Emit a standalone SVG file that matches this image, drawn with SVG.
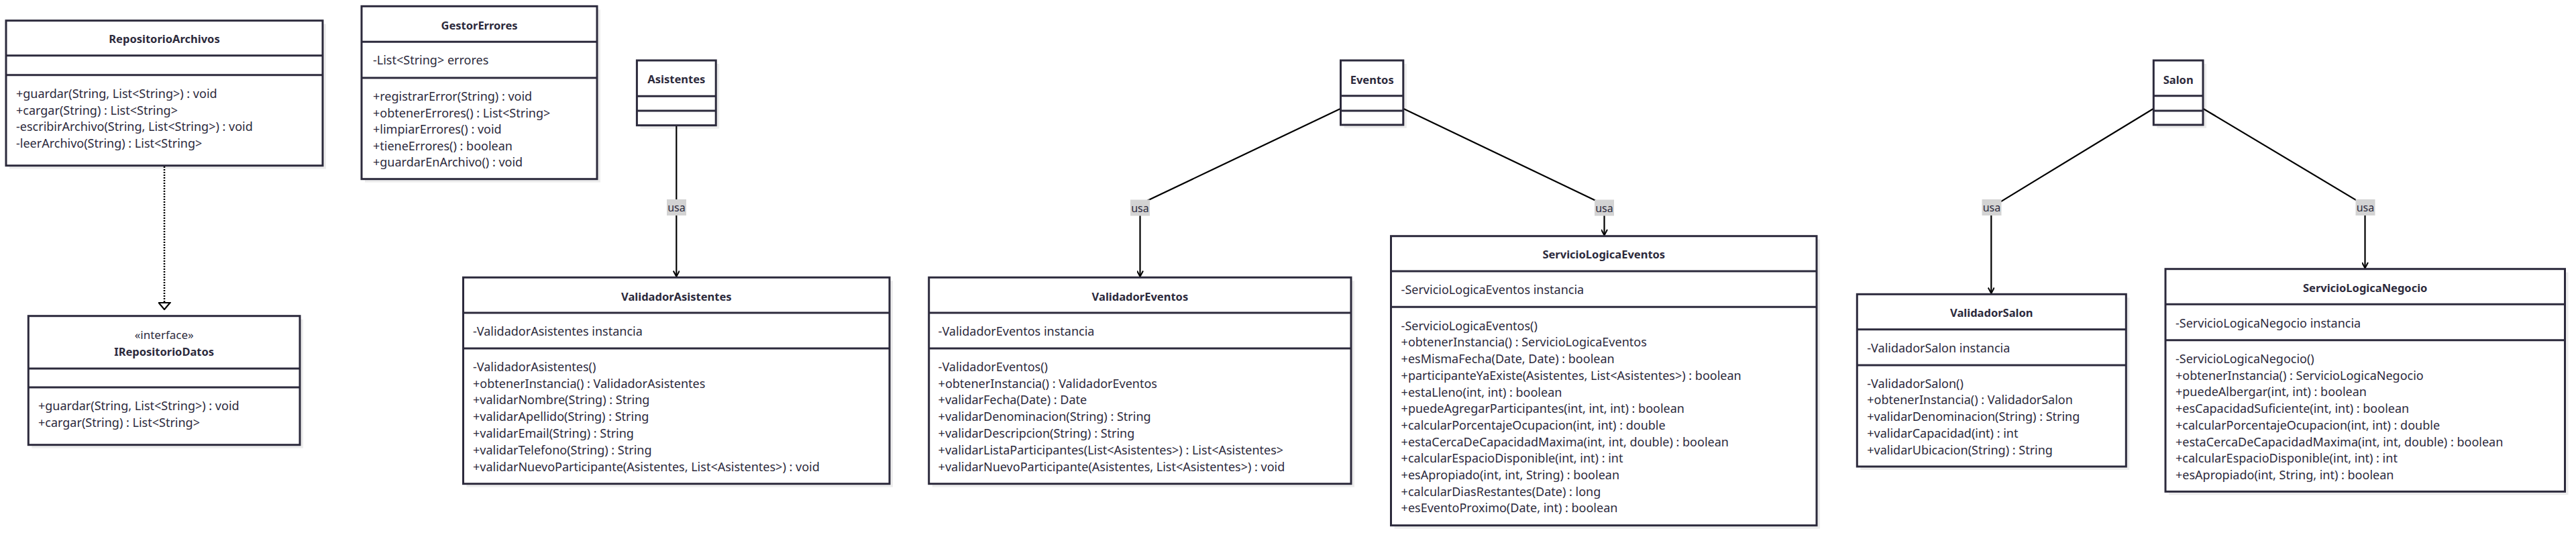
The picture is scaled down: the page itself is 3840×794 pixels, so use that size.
<svg xmlns="http://www.w3.org/2000/svg" width="3840" height="794" viewBox="0 0 3840 794">
<style>
.box{fill:#fff;stroke:#2c2a3c;stroke-width:3}
.sh{fill:#000;opacity:0.07}
.div{stroke:#2c2a3c;stroke-width:3}
.t{font-family:"Noto Sans","Open Sans",sans-serif;font-size:16.5px;font-weight:bold;fill:#2c2a3c;text-anchor:middle}
.s{font-family:"Noto Sans","Open Sans",sans-serif;font-size:17px;fill:#2c2a3c;text-anchor:middle}
.m{font-family:"Noto Sans","Open Sans",sans-serif;font-size:18px;fill:#2c2a3c}
.edge{fill:none;stroke:#000;stroke-width:2.2}
.dot{fill:none;stroke:#000;stroke-width:2.5;stroke-dasharray:2,2}
.lbg{fill:#d3d3d3}
.lt{font-family:"Noto Sans","Open Sans",sans-serif;font-size:16px;fill:#2c2a3c;text-anchor:middle}
</style>
<defs>
<marker id="arr" viewBox="0 0 10 10" refX="9.5" refY="5" markerWidth="10" markerHeight="10" markerUnits="userSpaceOnUse" orient="auto">
<path d="M1,0.5 L9.5,5 L1,9.5" fill="none" stroke="#000" stroke-width="2"/>
</marker>
<marker id="tri" viewBox="0 0 12 19" refX="11" refY="9.5" markerWidth="12" markerHeight="19" markerUnits="userSpaceOnUse" orient="auto">
<path d="M1,1 L11,9.5 L1,18 Z" fill="#fff" stroke="#000" stroke-width="2.2"/>
</marker>
</defs>
<rect width="3840" height="794" fill="#fff"/>

<g id="connectors">
<path class="dot" d="M245,248 V461" marker-end="url(#tri)"/>
<path class="edge" d="M1008.3,187 V412" marker-end="url(#arr)"/>
<path class="edge" d="M1998.5,161.7 L1699.5,304 V412" marker-end="url(#arr)"/>
<path class="edge" d="M2091.8,161.7 L2391.5,305 V350.5" marker-end="url(#arr)"/>
<path class="edge" d="M3210.3,161.7 L2968.3,309 V437" marker-end="url(#arr)"/>
<path class="edge" d="M3284,161.7 L3525.5,306 V399.5" marker-end="url(#arr)"/>
<g id="labels">
<rect class="lbg" x="994" y="297" width="29" height="24"/><text class="lt" x="1008.5" y="315">usa</text>
<rect class="lbg" x="1685" y="297.5" width="29" height="24"/><text class="lt" x="1699.5" y="315.5">usa</text>
<rect class="lbg" x="2377" y="297.5" width="29" height="24"/><text class="lt" x="2391.5" y="315.5">usa</text>
<rect class="lbg" x="2954.5" y="297" width="29" height="24"/><text class="lt" x="2969" y="315">usa</text>
<rect class="lbg" x="3511.5" y="297" width="29" height="24"/><text class="lt" x="3526" y="315">usa</text>
</g>
</g>

<g id="RepositorioArchivos">
<rect class="sh" x="14" y="35.7" width="472" height="216"/>
<rect class="box" x="9" y="30.7" width="472" height="216"/>
<line class="div" x1="9" y1="82.7" x2="481" y2="82.7"/>
<line class="div" x1="9" y1="111.7" x2="481" y2="111.7"/>
<text class="t" x="245" y="64">RepositorioArchivos</text>
<text class="m" x="24" y="146">+guardar(String, List&lt;String&gt;) : void</text>
<text class="m" x="24" y="170.7">+cargar(String) : List&lt;String&gt;</text>
<text class="m" x="24" y="195.4">-escribirArchivo(String, List&lt;String&gt;) : void</text>
<text class="m" x="24" y="220">-leerArchivo(String) : List&lt;String&gt;</text>
</g>

<g id="IRepositorioDatos">
<rect class="sh" x="47.3" y="475.7" width="404.7" height="192"/>
<rect class="box" x="42.3" y="470.7" width="404.7" height="192"/>
<line class="div" x1="42.3" y1="549" x2="447" y2="549"/>
<line class="div" x1="42.3" y1="577" x2="447" y2="577"/>
<text class="s" x="244.7" y="505">«interface»</text>
<text class="t" x="244.7" y="530">IRepositorioDatos</text>
<text class="m" x="57" y="611">+guardar(String, List&lt;String&gt;) : void</text>
<text class="m" x="57" y="636">+cargar(String) : List&lt;String&gt;</text>
</g>

<g id="GestorErrores">
<rect class="sh" x="544" y="14.3" width="351" height="257.4"/>
<rect class="box" x="539" y="9.3" width="351" height="257.4"/>
<line class="div" x1="539" y1="62.3" x2="890" y2="62.3"/>
<line class="div" x1="539" y1="116" x2="890" y2="116"/>
<text class="t" x="714.5" y="43.7">GestorErrores</text>
<text class="m" x="556" y="96">-List&lt;String&gt; errores</text>
<text class="m" x="556" y="150">+registrarError(String) : void</text>
<text class="m" x="556" y="174.5">+obtenerErrores() : List&lt;String&gt;</text>
<text class="m" x="556" y="199">+limpiarErrores() : void</text>
<text class="m" x="556" y="223.5">+tieneErrores() : boolean</text>
<text class="m" x="556" y="248">+guardarEnArchivo() : void</text>
</g>

<g id="Asistentes">
<rect class="sh" x="954.4" y="95" width="117.8" height="96.7"/>
<rect class="box" x="949.4" y="90" width="117.8" height="96.7"/>
<line class="div" x1="949.4" y1="143.3" x2="1067.2" y2="143.3"/>
<line class="div" x1="949.4" y1="165" x2="1067.2" y2="165"/>
<text class="t" x="1008.3" y="124.3">Asistentes</text>
</g>

<g id="ValidadorAsistentes">
<rect class="sh" x="695.5" y="418.3" width="635.5" height="307.4"/>
<rect class="box" x="690.5" y="413.3" width="635.5" height="307.4"/>
<line class="div" x1="690.5" y1="466" x2="1326" y2="466"/>
<line class="div" x1="690.5" y1="519" x2="1326" y2="519"/>
<text class="t" x="1008.3" y="447.7">ValidadorAsistentes</text>
<text class="m" x="705" y="500.3">-ValidadorAsistentes instancia</text>
<text class="m" x="705" y="552.7">-ValidadorAsistentes()</text>
<text class="m" x="705" y="577.5">+obtenerInstancia() : ValidadorAsistentes</text>
<text class="m" x="705" y="602.3">+validarNombre(String) : String</text>
<text class="m" x="705" y="627.1">+validarApellido(String) : String</text>
<text class="m" x="705" y="651.9">+validarEmail(String) : String</text>
<text class="m" x="705" y="676.7">+validarTelefono(String) : String</text>
<text class="m" x="705" y="701.5">+validarNuevoParticipante(Asistentes, List&lt;Asistentes&gt;) : void</text>
</g>

<g id="Eventos">
<rect class="sh" x="2003.5" y="95" width="93.3" height="96"/>
<rect class="box" x="1998.5" y="90" width="93.3" height="96"/>
<line class="div" x1="1998.5" y1="142.7" x2="2091.8" y2="142.7"/>
<line class="div" x1="1998.5" y1="165" x2="2091.8" y2="165"/>
<text class="t" x="2045.2" y="125">Eventos</text>
</g>

<g id="ValidadorEventos">
<rect class="sh" x="1389.7" y="418.3" width="629.3" height="307.4"/>
<rect class="box" x="1384.7" y="413.3" width="629.3" height="307.4"/>
<line class="div" x1="1384.7" y1="466" x2="2014" y2="466"/>
<line class="div" x1="1384.7" y1="519" x2="2014" y2="519"/>
<text class="t" x="1699.4" y="447.7">ValidadorEventos</text>
<text class="m" x="1398.6" y="500.3">-ValidadorEventos instancia</text>
<text class="m" x="1398.6" y="552.7">-ValidadorEventos()</text>
<text class="m" x="1398.6" y="577.5">+obtenerInstancia() : ValidadorEventos</text>
<text class="m" x="1398.6" y="602.3">+validarFecha(Date) : Date</text>
<text class="m" x="1398.6" y="627.1">+validarDenominacion(String) : String</text>
<text class="m" x="1398.6" y="651.9">+validarDescripcion(String) : String</text>
<text class="m" x="1398.6" y="676.7">+validarListaParticipantes(List&lt;Asistentes&gt;) : List&lt;Asistentes&gt;</text>
<text class="m" x="1398.6" y="701.5">+validarNuevoParticipante(Asistentes, List&lt;Asistentes&gt;) : void</text>
</g>

<g id="ServicioLogicaEventos">
<rect class="sh" x="2078.5" y="356.7" width="634.5" height="431"/>
<rect class="box" x="2073.5" y="351.7" width="634.5" height="431"/>
<line class="div" x1="2073.5" y1="404" x2="2708" y2="404"/>
<line class="div" x1="2073.5" y1="457.3" x2="2708" y2="457.3"/>
<text class="t" x="2390.8" y="385.3">ServicioLogicaEventos</text>
<text class="m" x="2088.6" y="438.3">-ServicioLogicaEventos instancia</text>
<text class="m" x="2088.6" y="491.7">-ServicioLogicaEventos()</text>
<text class="m" x="2088.6" y="516.4">+obtenerInstancia() : ServicioLogicaEventos</text>
<text class="m" x="2088.6" y="541.1">+esMismaFecha(Date, Date) : boolean</text>
<text class="m" x="2088.6" y="565.8">+participanteYaExiste(Asistentes, List&lt;Asistentes&gt;) : boolean</text>
<text class="m" x="2088.6" y="590.5">+estaLleno(int, int) : boolean</text>
<text class="m" x="2088.6" y="615.2">+puedeAgregarParticipantes(int, int, int) : boolean</text>
<text class="m" x="2088.6" y="639.9">+calcularPorcentajeOcupacion(int, int) : double</text>
<text class="m" x="2088.6" y="664.6">+estaCercaDeCapacidadMaxima(int, int, double) : boolean</text>
<text class="m" x="2088.6" y="689.3">+calcularEspacioDisponible(int, int) : int</text>
<text class="m" x="2088.6" y="714">+esApropiado(int, int, String) : boolean</text>
<text class="m" x="2088.6" y="738.7">+calcularDiasRestantes(Date) : long</text>
<text class="m" x="2088.6" y="763.4">+esEventoProximo(Date, int) : boolean</text>
</g>

<g id="Salon">
<rect class="sh" x="3215.3" y="95" width="73.7" height="96"/>
<rect class="box" x="3210.3" y="90" width="73.7" height="96"/>
<line class="div" x1="3210.3" y1="142.7" x2="3284" y2="142.7"/>
<line class="div" x1="3210.3" y1="165" x2="3284" y2="165"/>
<text class="t" x="3247.2" y="125">Salon</text>
</g>

<g id="ValidadorSalon">
<rect class="sh" x="2773.3" y="443.3" width="401" height="256.7"/>
<rect class="box" x="2768.3" y="438.3" width="401" height="256.7"/>
<line class="div" x1="2768.3" y1="490.7" x2="3169.3" y2="490.7"/>
<line class="div" x1="2768.3" y1="544" x2="3169.3" y2="544"/>
<text class="t" x="2968.8" y="471.7">ValidadorSalon</text>
<text class="m" x="2783.3" y="525">-ValidadorSalon instancia</text>
<text class="m" x="2783.3" y="577.7">-ValidadorSalon()</text>
<text class="m" x="2783.3" y="602.4">+obtenerInstancia() : ValidadorSalon</text>
<text class="m" x="2783.3" y="627.1">+validarDenominacion(String) : String</text>
<text class="m" x="2783.3" y="651.8">+validarCapacidad(int) : int</text>
<text class="m" x="2783.3" y="676.5">+validarUbicacion(String) : String</text>
</g>

<g id="ServicioLogicaNegocio">
<rect class="sh" x="3233" y="405.7" width="595.5" height="331.6"/>
<rect class="box" x="3228" y="400.7" width="595.5" height="331.6"/>
<line class="div" x1="3228" y1="453.3" x2="3823.5" y2="453.3"/>
<line class="div" x1="3228" y1="506.7" x2="3823.5" y2="506.7"/>
<text class="t" x="3525.7" y="435">ServicioLogicaNegocio</text>
<text class="m" x="3243" y="487.7">-ServicioLogicaNegocio instancia</text>
<text class="m" x="3243" y="541">-ServicioLogicaNegocio()</text>
<text class="m" x="3243" y="565.7">+obtenerInstancia() : ServicioLogicaNegocio</text>
<text class="m" x="3243" y="590.4">+puedeAlbergar(int, int) : boolean</text>
<text class="m" x="3243" y="615.1">+esCapacidadSuficiente(int, int) : boolean</text>
<text class="m" x="3243" y="639.8">+calcularPorcentajeOcupacion(int, int) : double</text>
<text class="m" x="3243" y="664.5">+estaCercaDeCapacidadMaxima(int, int, double) : boolean</text>
<text class="m" x="3243" y="689.2">+calcularEspacioDisponible(int, int) : int</text>
<text class="m" x="3243" y="713.9">+esApropiado(int, String, int) : boolean</text>
</g>
</svg>
